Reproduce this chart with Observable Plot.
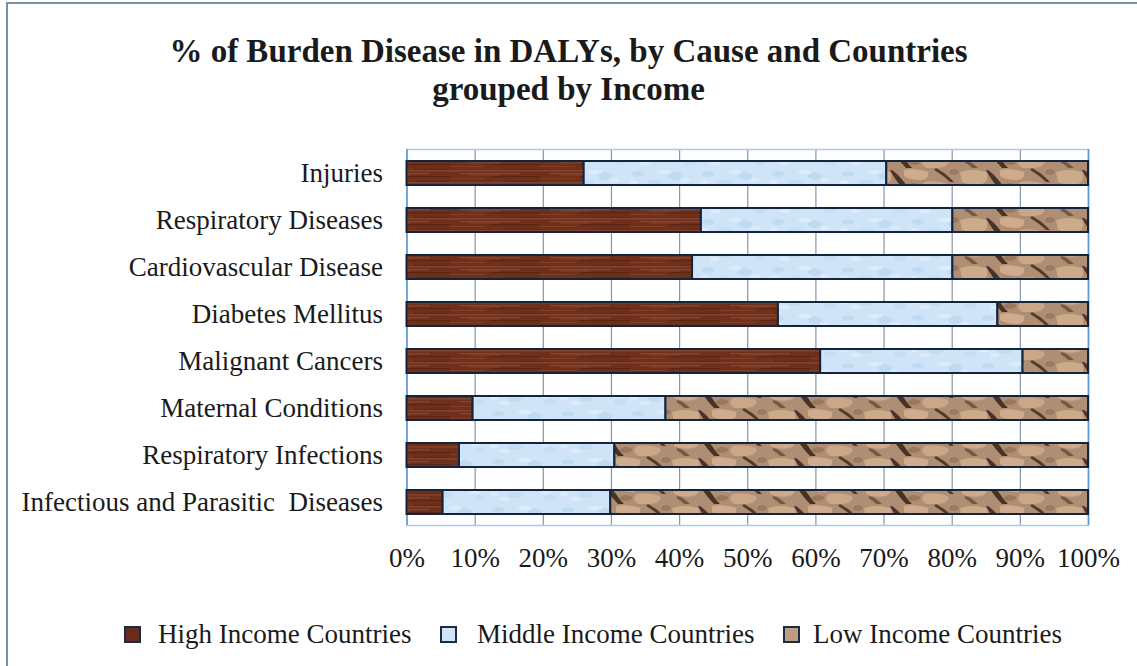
<!DOCTYPE html>
<html>
<head>
<meta charset="utf-8">
<script src="https://cdn.jsdelivr.net/npm/d3@7"></script>
<script src="https://cdn.jsdelivr.net/npm/@observablehq/plot@0.6"></script>
<style>
  html, body { margin: 0; padding: 0; background: #fff; overflow: hidden; }
  #wrap { position: relative; width: 1137px; height: 666px; overflow: hidden; font-family: "Liberation Serif", "Times New Roman", serif; color: #1a1a1a; }
  #frame { position: absolute; left: 6px; top: 2px; width: 1160px; height: 700px; border: 2px solid #7d8fa3; box-sizing: border-box; }
  #title { position: absolute; left: 0; top: 32px; width: 1137px; text-align: center; font-weight: bold; font-size: 33px; line-height: 38px; }
  #chart { position: absolute; left: 0; top: 0; }
  #legend { position: absolute; left: 0; top: 618px; width: 1137px; height: 32px; font-size: 27px; line-height: 32px; }
  .lg { position: absolute; top: 0; white-space: nowrap; }
  .sw { position: absolute; top: 8px; width: 13px; height: 13px; border: 2px solid #1c2b45; box-sizing: content-box; }
</style>
</head>
<body>
<div id="wrap">
  <div id="frame"></div>
  <div id="title">% of Burden Disease in DALYs, by Cause and Countries<br>grouped by Income</div>
  <div id="chart"></div>
  <div id="legend"></div>
</div>
<script>
// ---- data (percent of DALYs) ----
const causes = [
  "Injuries",
  "Respiratory Diseases",
  "Cardiovascular Disease",
  "Diabetes Mellitus",
  "Malignant Cancers",
  "Maternal Conditions",
  "Respiratory Infections",
  "Infectious and Parasitic  Diseases"
];
const incomes = ["High Income Countries", "Middle Income Countries", "Low Income Countries"];
const highIncome   = [26.0, 43.2, 41.9, 54.5, 60.7,  9.7,  7.7,  5.3];
const middleIncome = [44.4, 36.9, 38.2, 32.2, 29.7, 28.3, 22.8, 24.6];
const lowIncome    = [29.6, 19.9, 19.9, 13.3,  9.6, 62.0, 69.5, 70.1];
const xTicks = [0, 10, 20, 30, 40, 50, 60, 70, 80, 90, 100];
const xTickLabels = ["0%", "10%", "20%", "30%", "40%", "50%", "60%", "70%", "80%", "90%", "100%"];

const series = [highIncome, middleIncome, lowIncome];
const rows = [];
causes.forEach((c, i) => {
  incomes.forEach((inc, j) => rows.push({cause: c, income: inc, value: series[j][i]}));
});

const patternIds = ["url(#pHigh)", "url(#pMid)", "url(#pLow)"];
const swatchColors = ["#6a2c1b", "#cfe5f7", "#c09c7e"];

const W = 1137, H = 600;
const plot = Plot.plot({
  width: W,
  height: H,
  marginLeft: 406.5,
  marginRight: 49,
  marginTop: 149,
  marginBottom: 75,
  style: {fontFamily: "'Liberation Serif', 'Times New Roman', serif", color: "#1a1a1a", background: "transparent"},
  x: {domain: [0, 100]},
  y: {domain: causes, paddingInner: 0.5, paddingOuter: 0.25},
  color: {domain: incomes, range: patternIds},
  marks: [
    Plot.gridX(xTicks, {stroke: "#8496aa", strokeOpacity: 1, strokeWidth: 1.2}),
    Plot.frame({stroke: "#a9cbea", strokeWidth: 1.5}),
    Plot.ruleX([0, 100], {stroke: "#5e9bd6", strokeWidth: 1.5}),
    Plot.barX(rows, Plot.stackX({
      y: "cause", x: "value", fill: "income", order: incomes,
      stroke: "#14243d", strokeWidth: 2
    })),
    Plot.axisY({tickSize: 0, tickPadding: 24, fontSize: 27, label: null,
      fill: "#1a1a1a"}),
    Plot.axisX({ticks: xTicks, tickFormat: (d) => xTickLabels[xTicks.indexOf(d)],
      tickSize: 0, tickPadding: 22, fontSize: 27, label: null, fill: "#1a1a1a"})
  ]
});

// preserve the double space in labels
d3.select(plot).selectAll("text").style("white-space", "pre");

// texture patterns
const svg = d3.select(plot);
const defs = svg.insert("defs", ":first-child");

// High income: dark wood with horizontal grain
const ph = defs.append("pattern").attr("id", "pHigh").attr("patternUnits", "userSpaceOnUse")
  .attr("width", 90).attr("height", 12);
ph.append("rect").attr("width", 90).attr("height", 12).attr("fill", "#6e301c");
[[0, 2, 90, 1.5, "#87472b", 0.8], [10, 5, 60, 1.2, "#93553a", 0.6], [40, 8, 50, 1.3, "#56200f", 0.7],
 [0, 10, 35, 1, "#8a4b2f", 0.6], [55, 0.8, 35, 1, "#54200f", 0.6], [20, 6.5, 30, 0.8, "#9d6040", 0.5]]
  .forEach(([x, y, w, h, c, o]) => ph.append("rect").attr("x", x).attr("y", y).attr("width", w).attr("height", h).attr("fill", c).attr("opacity", o));

// Middle income: light blue, subtly mottled
const pm = defs.append("pattern").attr("id", "pMid").attr("patternUnits", "userSpaceOnUse")
  .attr("width", 70).attr("height", 24);
pm.append("rect").attr("width", 70).attr("height", 24).attr("fill", "#cfe5f7");
[[8, 6, 6, 3, "#c0dcf3"], [25, 15, 8, 3, "#c3ddf3"], [45, 8, 7, 4, "#bfdbf2"], [60, 18, 6, 3, "#c4def4"],
 [15, 19, 5, 2, "#dcecf9"], [35, 4, 7, 2, "#ddedfa"], [55, 12, 5, 2, "#daebf9"], [4, 14, 4, 2, "#dcecf9"]]
  .forEach(([cx, cy, rx, ry, c]) => pm.append("ellipse").attr("cx", cx).attr("cy", cy).attr("rx", rx).attr("ry", ry).attr("fill", c));

// Low income: tan stone with diagonal dark streaks
const pl = defs.append("pattern").attr("id", "pLow").attr("patternUnits", "userSpaceOnUse")
  .attr("width", 96).attr("height", 24);
pl.append("rect").attr("width", 96).attr("height", 24).attr("fill", "#b08e74");
pl.append("path").attr("d", "M0,4 Q14,0 26,4 Q30,12 22,16 Q10,18 2,14 Z").attr("fill", "#d1ae8d").attr("opacity", 0.9);
pl.append("path").attr("d", "M40,2 Q54,0 64,4 Q66,10 58,12 Q46,12 40,8 Z").attr("fill", "#d4b292").attr("opacity", 0.85);
pl.append("path").attr("d", "M60,14 Q74,12 84,16 Q86,22 76,24 L62,24 Q56,20 60,14 Z").attr("fill", "#cfac8b").attr("opacity", 0.85);
pl.append("path").attr("d", "M28,2 Q34,6 40,14 Q44,20 48,24 L42,24 Q36,18 32,12 Q28,6 26,2 Z").attr("fill", "#35251b").attr("opacity", 0.85);
pl.append("path").attr("d", "M72,0 Q80,4 86,10 L90,14 L86,14 Q80,8 70,2 Z").attr("fill", "#3a291e").attr("opacity", 0.8);
pl.append("path").attr("d", "M6,16 Q12,18 18,24 L12,24 Q8,20 4,18 Z").attr("fill", "#4a372a").attr("opacity", 0.6);
pl.append("ellipse").attr("cx", 50).attr("cy", 18).attr("rx", 6).attr("ry", 3).attr("fill", "#8b6b55").attr("opacity", 0.6);
pl.append("ellipse").attr("cx", 90).attr("cy", 4).attr("rx", 5).attr("ry", 3).attr("fill", "#8d6d57").attr("opacity", 0.6);

document.getElementById("chart").appendChild(plot);

// legend
const legendPos = [{sw: 124, tx: 158}, {sw: 440, tx: 477}, {sw: 783, tx: 813}];
const legend = document.getElementById("legend");
incomes.forEach((inc, i) => {
  const s = document.createElement("div");
  s.className = "sw";
  s.style.left = legendPos[i].sw + "px";
  s.style.background = swatchColors[i];
  legend.appendChild(s);
  const t = document.createElement("div");
  t.className = "lg";
  t.style.left = legendPos[i].tx + "px";
  t.textContent = inc;
  legend.appendChild(t);
});
</script>
</body>
</html>
